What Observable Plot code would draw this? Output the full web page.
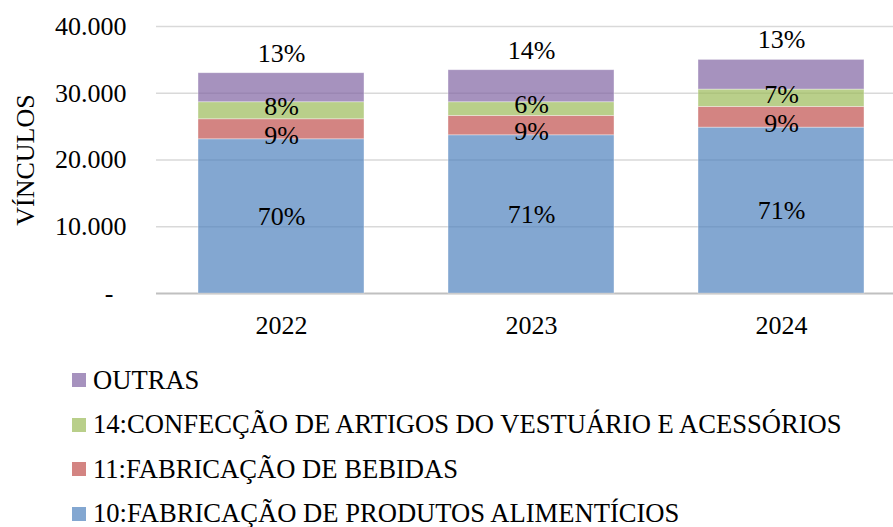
<!DOCTYPE html>
<html><head><meta charset="utf-8">
<script src="https://cdn.jsdelivr.net/npm/d3@7"></script>
<script src="https://cdn.jsdelivr.net/npm/@observablehq/plot@0.6"></script>
<style>
body{margin:0;background:#fff;font-family:"Liberation Serif","Times New Roman",serif;color:#000;}
#legend .row{height:44.5px;display:flex;align-items:center;font-size:26.6px;white-space:nowrap;}
#legend .sw{width:14px;height:14px;margin-left:72px;margin-right:7px;flex:none;}
svg text{font-variant-numeric:normal !important;}
</style></head><body><div id="chart"></div><div id="legend"></div>
<script>
const years = ["2022", "2023", "2024"];
const series = [
  "10:FABRICAÇÃO DE PRODUTOS ALIMENTÍCIOS",
  "11:FABRICAÇÃO DE BEBIDAS",
  "14:CONFECÇÃO DE ARTIGOS DO VESTUÁRIO E ACESSÓRIOS",
  "OUTRAS"
];
const alimenticios = [23100, 23700, 24850];
const bebidas = [3000, 2900, 3100];
const confeccao = [2550, 2050, 2600];
const outras = [4350, 4800, 4450];
const colors = ["#4F81BD", "#C0504D", "#9BBB59", "#8064A2"];
const yTicks = [0, 10000, 20000, 30000, 40000];

const values = [alimenticios, bebidas, confeccao, outras];
const totals = years.map((_, i) => values.reduce((s, v) => s + v[i], 0));
const data = [];
series.forEach((s, k) => years.forEach((y, i) => data.push({
  year: y, series: s, value: values[k][i],
  pct: Math.round(values[k][i] / totals[i] * 100) + "%"
})));

const font = "Liberation Serif";
const lbl = (k) => (d) => d.series === series[k] ? d.pct : "";
const stackOpts = (k) => ({x: "year", y: "value", z: "series", order: series, text: lbl(k)});
const textStyle = {fontSize: 26, fontFamily: font, fill: "#000"};

const chart = Plot.plot({
  width: 893, height: 358,
  marginLeft: 156, marginRight: 0, marginTop: 26, marginBottom: 65,
  style: {fontFamily: font, fontSize: "26px", color: "#000", background: "#fff"},
  x: {domain: years, range: [156, 906], paddingInner: 0.336, paddingOuter: 0.168, label: null},
  y: {domain: [0, 40000], label: null},
  color: {domain: series, range: colors},
  marks: [
    Plot.ruleY(yTicks.filter(d => d > 0), {stroke: "#d9d9d9", strokeWidth: 1.5}),
    Plot.ruleY([0], {stroke: "#c0c0c0", strokeWidth: 2}),
    Plot.barY(data, {x: "year", y: "value", z: "series", order: series, fill: "series", fillOpacity: 0.7,
      stroke: "#fff", strokeWidth: 0.75, strokeOpacity: 0.5}),
    Plot.text(data, Plot.stackY({...stackOpts(0), ...textStyle})),
    Plot.text(data, Plot.stackY({...stackOpts(1), ...textStyle, dy: 6})),
    Plot.text(data, Plot.stackY({...stackOpts(2), ...textStyle, dy: -4})),
    Plot.text(data, Plot.stackY2({...stackOpts(3), ...textStyle, dy: -20})),
    Plot.axisY({ticks: yTicks, tickSize: 0, tickPadding: 30, fontSize: 26, fontVariant: "normal",
      tickFormat: d => d === 0 ? "-\u2002" : d3.format(",")(d).replace(/,/g, "."),
      label: "VÍNCULOS", labelAnchor: "center", labelArrow: "none", labelOffset: 141}),
    Plot.axisX({tickSize: 0, tickPadding: 22, fontSize: 26, fontVariant: "normal", label: null})
  ]
});
document.getElementById("chart").appendChild(chart);

const legend = document.getElementById("legend");
series.map((s, k) => ({s, c: colors[k]})).reverse().forEach(({s, c}) => {
  const row = document.createElement("div");
  row.className = "row";
  const sw = document.createElement("span");
  sw.className = "sw";
  sw.style.background = c;
  sw.style.opacity = 0.7;
  const t = document.createElement("span");
  t.textContent = s;
  row.appendChild(sw); row.appendChild(t);
  legend.appendChild(row);
});
</script></body></html>
